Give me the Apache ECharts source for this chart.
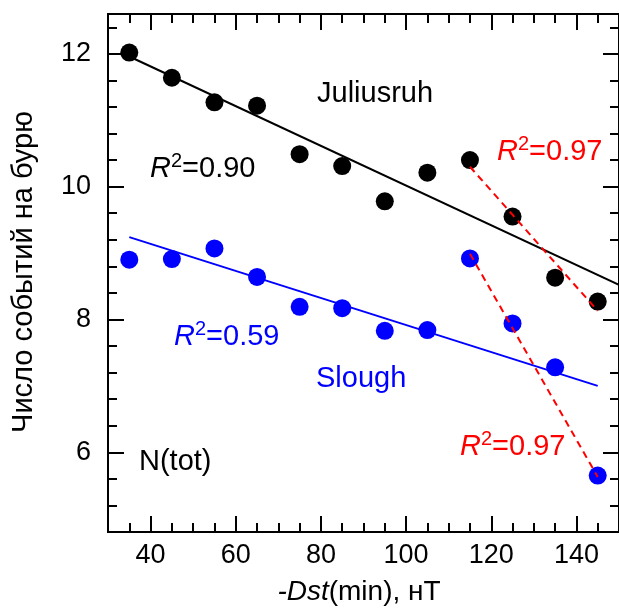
<!DOCTYPE html>
<html>
<head>
<meta charset="utf-8">
<script src="https://cdn.jsdelivr.net/npm/echarts@6/dist/echarts.min.js"></script>
<style>
  html, body { margin: 0; padding: 0; background: #fff; }
  #chart { width: 619px; height: 610px; }
</style>
</head>
<body>
<div id="chart"></div>
<script>
// -Dst(min) bins, nT
const dstLevels = [35, 45, 55, 65, 75, 85, 95, 105, 115, 125, 135, 145];
// N(tot), events per storm
const juliusruh = [12.02, 11.64, 11.27, 11.22, 10.49, 10.31, 9.78, 10.21, 10.40, 9.55, 8.63, 8.27];
const slough = [8.90, 8.91, 9.07, 8.64, 8.19, 8.17, 7.83, 7.84, 8.92, 7.94, 7.28, 5.65];

// regression lines (end points)
const juliusruhFit = [[35, 11.96], [150, 8.52]];
const sloughFit = [[35, 9.24], [145, 7.00]];
const juliusruhStormFit = [[115, 10.30], [145, 8.13]];
const sloughStormFit = [[115, 8.99], [145, 5.63]];

const xMajorTicks = [40, 60, 80, 100, 120, 140];
const yMajorTicks = [6, 8, 10, 12];

const FONT = "'Liberation Sans', Arial, sans-serif";
const BLACK = '#000000';
const BLUE = '#0000ff';
const RED = '#ff0000';

const chart = echarts.init(document.getElementById('chart'));

// one axis = either minor ticks (regular interval) or major ticks + labels
function makeAxis(kind, pos, major) {
  const isX = kind === 'x';
  const ticks = isX ? xMajorTicks : yMajorTicks;
  const showLabel = major && (pos === 'bottom' || pos === 'left');
  const axis = {
    type: 'value',
    position: pos,
    min: isX ? 30 : 4.8,
    max: isX ? 150 : 12.6,
    axisLine: { show: true, onZero: false, lineStyle: { color: BLACK, width: 2 } },
    axisTick: {
      show: true,
      inside: true,
      length: major ? 16 : 9,
      lineStyle: { color: BLACK, width: 2 }
    },
    axisLabel: {
      show: showLabel,
      color: BLACK,
      fontFamily: FONT,
      fontSize: 27,
      margin: isX ? 10 : 17
    },
    splitLine: { show: false }
  };
  if (major) {
    axis.axisTick.customValues = ticks;
    axis.axisLabel.customValues = ticks;
  } else {
    axis.interval = isX ? 5 : 0.4;
  }
  return axis;
}

function rsq(text, color) {
  return {
    text: '{r|R}{s|2}{n|=' + text + '}',
    fill: color,
    rich: {
      r: { fontFamily: FONT, fontSize: 29, fontStyle: 'italic', lineHeight: 35, fill: color },
      s: { fontFamily: FONT, fontSize: 20, lineHeight: 20, verticalAlign: 'top', fill: color },
      n: { fontFamily: FONT, fontSize: 29, lineHeight: 35, fill: color }
    }
  };
}

function label(x, y, style) {
  return {
    type: 'text',
    x: x,
    y: y,
    z: 10,
    style: Object.assign({ align: 'left', verticalAlign: 'middle' }, style)
  };
}

const plain = (text, color) => ({ text: text, fill: color, fontFamily: FONT, fontSize: 29 });

const option = {
  animation: false,
  backgroundColor: '#ffffff',
  grid: { left: 108, top: 14, width: 520, height: 518, containLabel: false },
  xAxis: [
    makeAxis('x', 'bottom', false),
    makeAxis('x', 'bottom', true),
    makeAxis('x', 'top', false),
    makeAxis('x', 'top', true)
  ],
  yAxis: [
    makeAxis('y', 'left', false),
    makeAxis('y', 'left', true),
    makeAxis('y', 'right', false),
    makeAxis('y', 'right', true)
  ],
  series: [
    {
      name: 'Juliusruh fit',
      type: 'line',
      data: juliusruhFit,
      showSymbol: false,
      lineStyle: { color: BLACK, width: 2 },
      z: 2
    },
    {
      name: 'Slough fit',
      type: 'line',
      data: sloughFit,
      showSymbol: false,
      lineStyle: { color: BLUE, width: 2 },
      z: 2
    },
    {
      name: 'Juliusruh',
      type: 'scatter',
      data: dstLevels.map((d, i) => [d, juliusruh[i]]),
      symbol: 'circle',
      symbolSize: 18,
      itemStyle: { color: BLACK, opacity: 1 },
      z: 3
    },
    {
      name: 'Slough',
      type: 'scatter',
      data: dstLevels.map((d, i) => [d, slough[i]]),
      symbol: 'circle',
      symbolSize: 18,
      itemStyle: { color: BLUE, opacity: 1 },
      z: 3
    },
    {
      name: 'Juliusruh storm fit',
      type: 'line',
      data: juliusruhStormFit,
      showSymbol: false,
      lineStyle: { color: RED, width: 2, type: [7, 5] },
      z: 5
    },
    {
      name: 'Slough storm fit',
      type: 'line',
      data: sloughStormFit,
      showSymbol: false,
      lineStyle: { color: RED, width: 2, type: [7, 5] },
      z: 5
    }
  ],
  graphic: [
    label(317, 94, plain('Juliusruh', BLACK)),
    label(316, 379, plain('Slough', BLUE)),
    label(139, 462, plain('N(tot)', BLACK)),
    label(150, 169, rsq('0.90', BLACK)),
    label(497, 152, rsq('0.97', RED)),
    label(174, 337, rsq('0.59', BLUE)),
    label(460, 447, rsq('0.97', RED)),
    {
      type: 'text',
      x: 24,
      y: 272,
      rotation: Math.PI / 2,
      style: {
        text: 'Число событий на бурю',
        fill: BLACK,
        fontFamily: FONT,
        fontSize: 29,
        align: 'center',
        verticalAlign: 'middle'
      }
    },
    {
      type: 'text',
      x: 359,
      y: 592,
      style: {
        text: '{i|-Dst}{n|(min), нТ}',
        fill: BLACK,
        align: 'center',
        verticalAlign: 'middle',
        rich: {
          i: { fontFamily: FONT, fontSize: 28, fontStyle: 'italic', fill: BLACK },
          n: { fontFamily: FONT, fontSize: 28, fill: BLACK }
        }
      }
    }
  ]
};

chart.setOption(option);
</script>
</body>
</html>
